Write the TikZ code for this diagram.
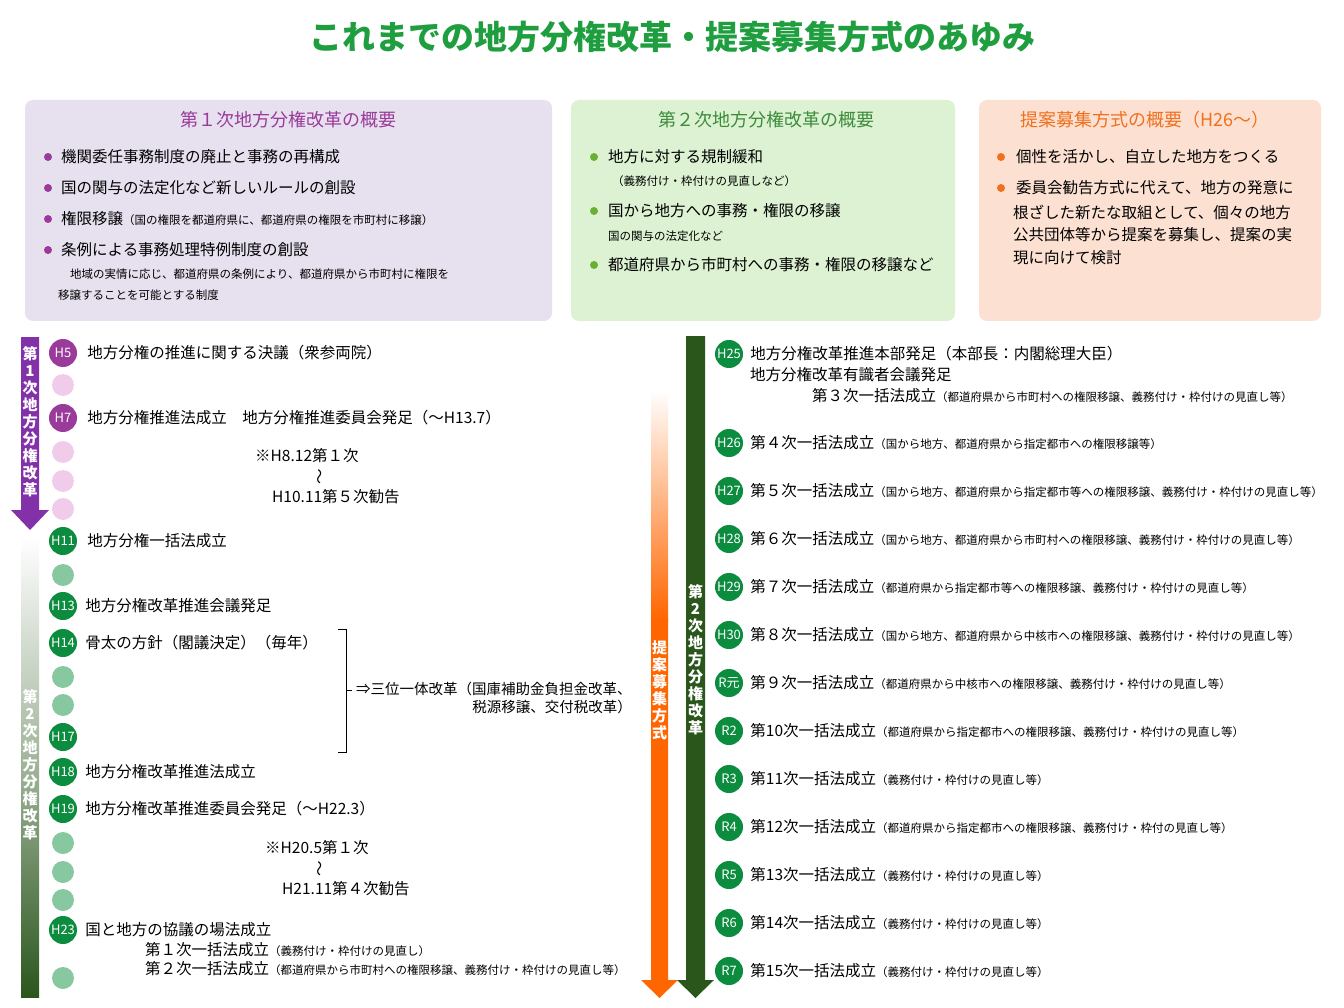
\documentclass[tikz,border=0pt]{standalone}
\usepackage{fontspec}
\setmainfont{Noto Sans CJK JP}
\usetikzlibrary{positioning, calc, arrows.meta, shapes.arrows}
\definecolor{titleGreen}{HTML}{1E9E3E}
\definecolor{firstPurple}{HTML}{9A3A9A}
\definecolor{firstBox}{HTML}{E7E1EF}
\definecolor{secondBox}{HTML}{DCF2D2}
\definecolor{secondGreen}{HTML}{3C8C3C}
\definecolor{bulletGreen}{HTML}{6BB033}
\definecolor{thirdBox}{HTML}{FCE1D2}
\definecolor{thirdOrange}{HTML}{F07020}
\definecolor{dotGreen}{HTML}{0C8C3E}
\definecolor{paleGreen}{HTML}{88C8A0}
\definecolor{palePink}{HTML}{F0CCEA}
\definecolor{barGreen}{HTML}{2A561C}
\definecolor{barOrange}{HTML}{FF6600}
\newcommand{\BigTxt}{\fontsize{15.5}{19}\selectfont}
\newcommand{\TinyTxt}{\fontsize{11.5}{14}\selectfont}
\tikzset{
    % boxes
    summaryBox/.style={rounded corners=8pt, draw=none},
    boxTitle/.style={font=\fontsize{18}{21}\selectfont},
    itemText/.style={anchor=west, inner sep=0pt, font=\BigTxt},
    smallText/.style={anchor=west, inner sep=0pt, font=\TinyTxt},
    bulletDot/.style={circle, inner sep=0pt, minimum size=8pt},
    % timeline
    yearDot/.style={circle, fill=dotGreen, text=white, inner sep=0pt, minimum size=28pt, font=\fontsize{13}{13}\selectfont},
    yearDotPurple/.style={yearDot, fill=firstPurple},
    ghostDot/.style={circle, fill=paleGreen, minimum size=22pt, inner sep=0pt},
    ghostPink/.style={circle, fill=palePink, minimum size=22pt, inner sep=0pt},
    barLabel/.style={text=white, font=\fontsize{15}{17}\selectfont\bfseries, align=center, inner sep=0pt}
}
\begin{document}
\begin{tikzpicture}[x=1pt, y=-1pt]
\useasboundingbox (0,0) rectangle (1344,1008);
\node[text=titleGreen, font=\fontsize{33}{36}\selectfont\bfseries] (title) at (672,37) {これまでの地方分権改革・提案募集方式のあゆみ};

% Box 1
\fill[summaryBox, fill=firstBox] (25,100) rectangle (552,321);
\node[boxTitle, text=firstPurple] (t1) at (288,120) {第１次地方分権改革の概要};
\foreach \y in {157,188,219,250} \node[bulletDot, fill=firstPurple] at (48,\y) {};
\node[itemText] (a1) at (61,157) {機関委任事務制度の廃止と事務の再構成};
\node[itemText] (a2) at (61,188) {国の関与の法定化など新しいルールの創設};
\node[itemText] (a3) at (61,219) {権限移譲{\TinyTxt（国の権限を都道府県に、都道府県の権限を市町村に移譲）}};
\node[itemText] (a4) at (61,250) {条例による事務処理特例制度の創設};
\node[smallText] (a5) at (70,274) {地域の実情に応じ、都道府県の条例により、都道府県から市町村に権限を};
\node[smallText] (a6) at (58,295) {移譲することを可能とする制度};

% Box 2
\fill[summaryBox, fill=secondBox] (571,100) rectangle (955,321);
\node[boxTitle, text=secondGreen] (t2) at (766,120) {第２次地方分権改革の概要};
\foreach \y in {157,211,265} \node[bulletDot, fill=bulletGreen] at (594,\y) {};
\node[itemText] (b1) at (608,157) {地方に対する規制緩和};
\node[smallText] (b2) at (612,181) {（義務付け・枠付けの見直しなど）};
\node[itemText] (b3) at (608,211) {国から地方への事務・権限の移譲};
\node[smallText] (b4) at (608,236) {国の関与の法定化など};
\node[itemText] (b5) at (608,265) {都道府県から市町村への事務・権限の移譲など};

% Box 3
\fill[summaryBox, fill=thirdBox] (979,100) rectangle (1321,321);
\node[boxTitle, text=thirdOrange] (t3) at (1145,120) {提案募集方式の概要（H26〜）};
\foreach \y in {157,188} \node[bulletDot, fill=thirdOrange] at (1001,\y) {};
\node[itemText] (c1) at (1016,157) {個性を活かし、自立した地方をつくる};
\node[itemText] (c2) at (1016,188) {委員会勧告方式に代えて、地方の発意に};
\node[itemText] (c3) at (1013,212) {根ざした新たな取組として、個々の地方};
\node[itemText] (c4) at (1013,235) {公共団体等から提案を募集し、提案の実};
\node[itemText] (c5) at (1013,258) {現に向けて検討};

% Left bars
\fill[firstPurple!85!blue] (21,337) -- (39,337) -- (39,510) -- (49,510) -- (30,530) -- (11,510) -- (21,510) -- cycle;
\node[barLabel] (lbl1) at (30,422) {第\\1\\次\\地\\方\\分\\権\\改\\革};
\shade[top color=white, bottom color=barGreen, middle color=barGreen!45] (21,537) rectangle (39,997);
\node[barLabel] (lbl2) at (30,765) {第\\2\\次\\地\\方\\分\\権\\改\\革};

% Left timeline
\node[yearDotPurple] (h5) at (63,353) {H5};
\node[yearDotPurple] (h7) at (63,418) {H7};
\foreach \y in {385,452,481,509} \node[ghostPink] at (63,\y) {};
\node[yearDot] (h11) at (63,541) {H11};
\node[yearDot] (h13) at (63,606) {H13};
\node[yearDot] (h14) at (63,643) {H14};
\node[yearDot] (h17) at (63,737) {H17};
\node[yearDot] (h18) at (63,772) {H18};
\node[yearDot] (h19) at (63,809) {H19};
\node[yearDot] (h23) at (63,930) {H23};
\foreach \y in {575,677,705,843,872,900,978} \node[ghostDot] at (63,\y) {};

\node[itemText, right=10pt of h5] {地方分権の推進に関する決議（衆参両院）};
\node[itemText, right=10pt of h7] {地方分権推進法成立\quad 地方分権推進委員会発足（〜H13.7）};
\node[itemText] (n1) at (255,456) {※H8.12第１次};
\node[rotate=90, font=\BigTxt] at (322,477) {〜};
\node[itemText] (n2) at (272,497) {H10.11第５次勧告};
\node[itemText, right=10pt of h11] {地方分権一括法成立};
\node[itemText, right=8pt of h13] {地方分権改革推進会議発足};
\node[itemText, right=8pt of h14] {骨太の方針（閣議決定）（毎年）};
\coordinate (bt) at (338,629);
\coordinate (bb) at (338,752);
\draw[thick] (bt) -- ++(8,0) -- ++(0,61) -- ++(6,0) ++(-6,0) -- ++(0,62) -- (bb);
\node[itemText, font=\fontsize{14.5}{17}\selectfont] (san) at (356,689) {⇒三位一体改革（国庫補助金負担金改革、};
\node[itemText, anchor=east, font=\fontsize{14.5}{17}\selectfont] (san2) at (632,707) {税源移譲、交付税改革）};
\node[itemText, right=8pt of h18] {地方分権改革推進法成立};
\node[itemText, right=8pt of h19] {地方分権改革推進委員会発足（〜H22.3）};
\node[itemText] (n3) at (265,848) {※H20.5第１次};
\node[rotate=90, font=\BigTxt] at (322,869) {〜};
\node[itemText] (n4) at (282,889) {H21.11第４次勧告};
\node[itemText, right=8pt of h23] {国と地方の協議の場法成立};
\node[itemText] at (145,950) {第１次一括法成立{\TinyTxt（義務付け・枠付けの見直し）}};
\node[itemText] at (145,969) {第２次一括法成立{\TinyTxt（都道府県から市町村への権限移譲、義務付け・枠付けの見直し等）}};

% Middle bars
\shade[top color=white, bottom color=barOrange] (651,390) rectangle (668,620);
\fill[barOrange] (651,619) -- (668,619) -- (668,980) -- (678,980) -- (659.5,998) -- (641,980) -- (651,980) -- cycle;
\node[barLabel] (lbl3) at (659.5,690) {提\\案\\募\\集\\方\\式};
\fill[barGreen] (686,336) -- (705,336) -- (705,980) -- (714,980) -- (695.5,998) -- (677,980) -- (686,980) -- cycle;
\node[barLabel] (lbl4) at (695.5,660) {第\\2\\次\\地\\方\\分\\権\\改\\革};

% Right timeline
\node[yearDot] (h25) at (729,354) {H25};
\node[itemText, right=7pt of h25] {地方分権改革推進本部発足（本部長：内閣総理大臣）};
\node[itemText] at (750,375) {地方分権改革有識者会議発足};
\node[itemText] at (812,396) {第３次一括法成立{\TinyTxt（都道府県から市町村への権限移譲、義務付け・枠付けの見直し等）}};
\foreach \nm/\lb/\y/\txt in {
  h26/H26/443/{第４次一括法成立{\TinyTxt（国から地方、都道府県から指定都市への権限移譲等）}},
  h27/H27/491/{第５次一括法成立{\TinyTxt（国から地方、都道府県から指定都市等への権限移譲、義務付け・枠付けの見直し等）}},
  h28/H28/539/{第６次一括法成立{\TinyTxt（国から地方、都道府県から市町村への権限移譲、義務付け・枠付けの見直し等）}},
  h29/H29/587/{第７次一括法成立{\TinyTxt（都道府県から指定都市等への権限移譲、義務付け・枠付けの見直し等）}},
  h30/H30/635/{第８次一括法成立{\TinyTxt（国から地方、都道府県から中核市への権限移譲、義務付け・枠付けの見直し等）}},
  r1/R元/683/{第９次一括法成立{\TinyTxt（都道府県から中核市への権限移譲、義務付け・枠付けの見直し等）}},
  r2/R2/731/{第10次一括法成立{\TinyTxt（都道府県から指定都市への権限移譲、義務付け・枠付けの見直し等）}},
  r3/R3/779/{第11次一括法成立{\TinyTxt（義務付け・枠付けの見直し等）}},
  r4/R4/827/{第12次一括法成立{\TinyTxt（都道府県から指定都市への権限移譲、義務付け・枠付の見直し等）}},
  r5/R5/875/{第13次一括法成立{\TinyTxt（義務付け・枠付けの見直し等）}},
  r6/R6/923/{第14次一括法成立{\TinyTxt（義務付け・枠付けの見直し等）}},
  r7/R7/971/{第15次一括法成立{\TinyTxt（義務付け・枠付けの見直し等）}}}{
  \node[yearDot] (\nm) at (729,\y) {\lb};
  \node[itemText, right=7pt of \nm] {\txt};
}
\end{tikzpicture}
\end{document}
